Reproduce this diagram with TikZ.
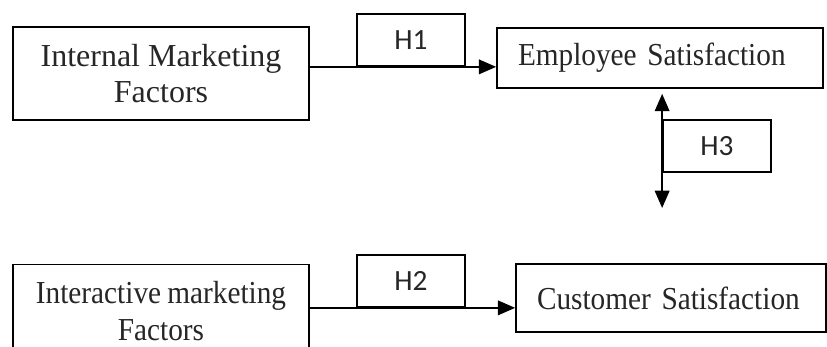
\documentclass[tikz,border=0pt]{standalone}
\usepackage{fontspec}
\setmainfont{Liberation Serif}
\newfontfamily\narrowserif[FakeStretch=0.915,WordSpace=0.85]{Liberation Serif}
\newfontfamily\hfont{Carlito}
\usetikzlibrary{arrows.meta,calc}
\begin{document}
\begin{tikzpicture}[x=0.75pt,y=-0.75pt, line width=1.3pt,
  box/.style={draw, rectangle, inner sep=0pt, text=black!85, font=\fontsize{24}{27.5}\selectfont},
  nbox/.style={box, font=\narrowserif\fontsize{24}{27.5}\selectfont},
  hbox/.style={draw, rectangle, minimum width=81pt, minimum height=39pt, inner sep=0pt, text=black!85, font=\hfont\fontsize{22}{25}\selectfont},
  tri/.tip={Triangle[length=13pt,width=11pt]},
  arr/.style={-tri},
  darr/.style={tri-tri},
]
\useasboundingbox (0,0) rectangle (827,346);
\clip (0,0) rectangle (827,346);
% boxes
\node[box, minimum width=222pt, minimum height=69.75pt, align=center] (imf) at (161,73.5) {Internal Marketing\\Factors};
\node[nbox, minimum width=222pt, minimum height=69.75pt, align=center] (iaf) at (161,311) {Interactive marketing\\Factors};
\node[nbox, minimum height=45pt, inner xsep=15.75pt, text width=213pt, align=left] (es) at (660,58) {Employee Satisfaction};
\node[nbox, minimum height=51pt, inner xsep=15.75pt, text width=201pt, align=left] (cs) at (671,298) {Customer Satisfaction};
% hypothesis labels
\node[hbox] (h1) at (411,40) {\raisebox{-2.5pt}{H1}};
\node[hbox] (h2) at (411,281) {\raisebox{-2.5pt}{H2}};
\node[hbox] (h3) at (717,146) {\raisebox{-2.5pt}{H3}};
% connectors
\draw[arr] (h1.south -| imf.east) -- (h1.south -| es.west);
\draw[arr] (h2.south -| iaf.east) -- (h2.south -| cs.west);
\coordinate (v1) at ($(es.south -| h3.west)+(0,5)$);
\coordinate (v2) at (663,208);
\draw[darr] (v1) -- (v2 -| h3.west);
\end{tikzpicture}
\end{document}
